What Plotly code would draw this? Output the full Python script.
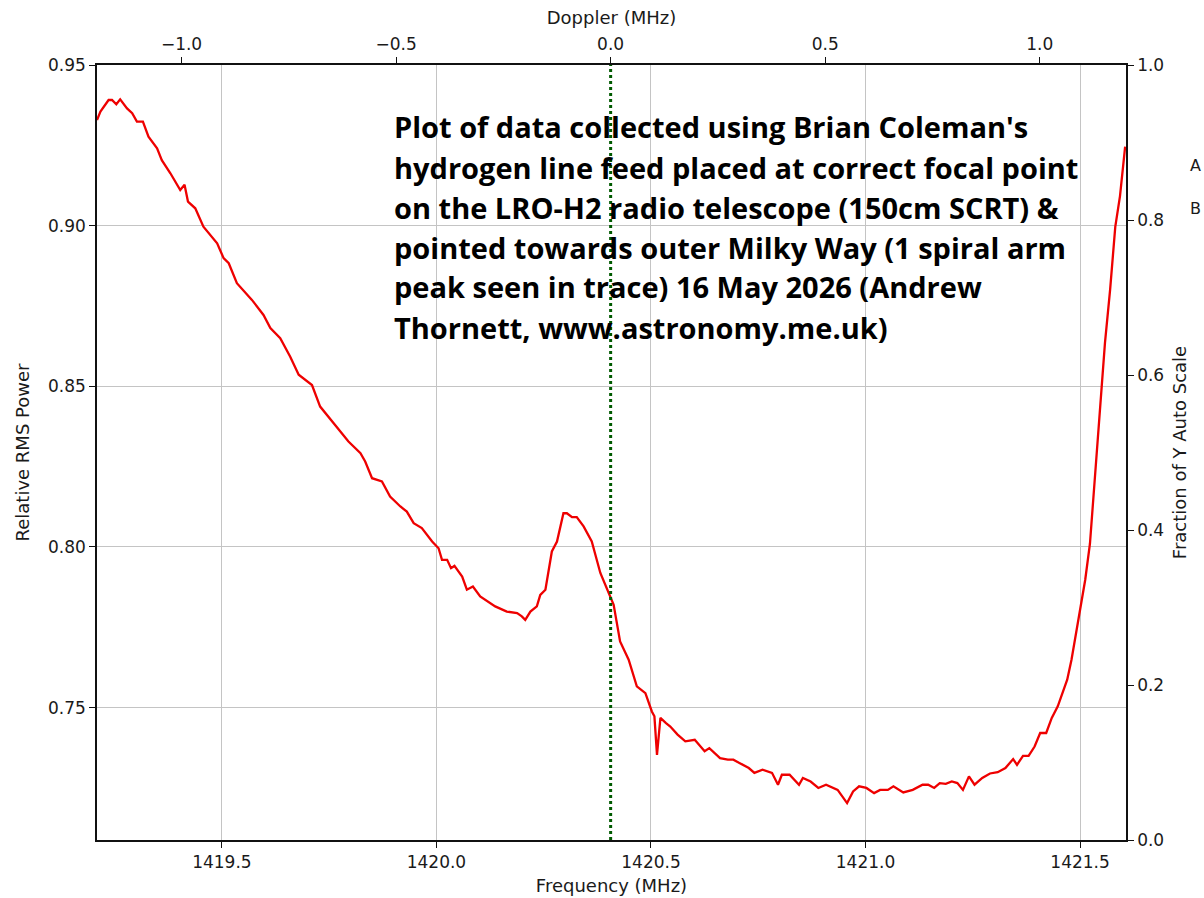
import plotly.graph_objects as go

# ---------------- data ----------------
freq_mhz = [
    1419.209, 1419.217, 1419.236, 1419.244, 1419.254, 1419.263, 1419.279, 1419.291, 1419.302, 1419.316,
    1419.329, 1419.349, 1419.360, 1419.380, 1419.403, 1419.413, 1419.421, 1419.438, 1419.457, 1419.489,
    1419.504, 1419.516, 1419.535, 1419.570, 1419.597, 1419.613, 1419.636, 1419.659, 1419.679, 1419.710,
    1419.729, 1419.764, 1419.795, 1419.823, 1419.834, 1419.850, 1419.873, 1419.892, 1419.916, 1419.931,
    1419.947, 1419.966, 1419.990, 1420.005, 1420.013, 1420.025, 1420.034, 1420.042, 1420.060, 1420.071,
    1420.085, 1420.102, 1420.137, 1420.164, 1420.188, 1420.199, 1420.207, 1420.219, 1420.234, 1420.242,
    1420.254, 1420.269, 1420.281, 1420.296, 1420.304, 1420.316, 1420.327, 1420.343, 1420.362, 1420.382,
    1420.405, 1420.413, 1420.428, 1420.448, 1420.467, 1420.487, 1420.502, 1420.508, 1420.514, 1420.522,
    1420.535, 1420.545, 1420.562, 1420.580, 1420.602, 1420.625, 1420.636, 1420.661, 1420.679, 1420.692,
    1420.706, 1420.728, 1420.741, 1420.760, 1420.782, 1420.796, 1420.805, 1420.823, 1420.845, 1420.854,
    1420.872, 1420.890, 1420.908, 1420.935, 1420.957, 1420.971, 1420.985, 1421.002, 1421.020, 1421.034,
    1421.052, 1421.065, 1421.088, 1421.110, 1421.133, 1421.146, 1421.160, 1421.173, 1421.187, 1421.201,
    1421.214, 1421.227, 1421.241, 1421.254, 1421.272, 1421.290, 1421.308, 1421.326, 1421.344, 1421.353,
    1421.367, 1421.380, 1421.394, 1421.407, 1421.421, 1421.434, 1421.448, 1421.470, 1421.480, 1421.496,
    1421.512, 1421.523, 1421.535, 1421.547, 1421.558, 1421.570, 1421.582, 1421.593, 1421.605,
]

rms_power = [
    0.9329, 0.9355, 0.9391, 0.9391, 0.9378, 0.9393, 0.9365, 0.9350, 0.9324, 0.9324,
    0.9277, 0.9241, 0.9204, 0.9163, 0.9111, 0.9127, 0.9075, 0.9054, 0.8997, 0.8945,
    0.8899, 0.8883, 0.8821, 0.8769, 0.8722, 0.8681, 0.8650, 0.8593, 0.8536, 0.8504,
    0.8437, 0.8380, 0.8328, 0.8292, 0.8266, 0.8214, 0.8204, 0.8157, 0.8126, 0.8110,
    0.8074, 0.8059, 0.8017, 0.7996, 0.7960, 0.7960, 0.7934, 0.7941, 0.7908, 0.7867,
    0.7877, 0.7846, 0.7815, 0.7799, 0.7794, 0.7784, 0.7773, 0.7799, 0.7815, 0.7851,
    0.7867, 0.7986, 0.8017, 0.8105, 0.8105, 0.8093, 0.8093, 0.8064, 0.8017, 0.7919,
    0.7846, 0.7820, 0.7706, 0.7649, 0.7566, 0.7545, 0.7488, 0.7473, 0.7353, 0.7468,
    0.7452, 0.7441, 0.7416, 0.7395, 0.7400, 0.7364, 0.7374, 0.7343, 0.7338, 0.7338,
    0.7328, 0.7312, 0.7297, 0.7307, 0.7297, 0.7260, 0.7291, 0.7291, 0.7260, 0.7281,
    0.7270, 0.7250, 0.7260, 0.7244, 0.7203, 0.7239, 0.7255, 0.7250, 0.7234, 0.7244,
    0.7244, 0.7255, 0.7236, 0.7244, 0.7260, 0.7260, 0.7250, 0.7265, 0.7263, 0.7270,
    0.7265, 0.7244, 0.7286, 0.7260, 0.7281, 0.7295, 0.7299, 0.7312, 0.7340, 0.7322,
    0.7350, 0.7350, 0.7379, 0.7421, 0.7421, 0.7468, 0.7504, 0.7587, 0.7649, 0.7773,
    0.7898, 0.8010, 0.8218, 0.8427, 0.8635, 0.8801, 0.8996, 0.9092, 0.9246,
]

H_LINE_MHZ = 1420.406           # doppler zero
freq_range = [1419.209, 1421.607]
power_range = [0.7088, 0.95]

freq_ticks = [1419.5, 1420.0, 1420.5, 1421.0, 1421.5]
power_ticks = [0.75, 0.80, 0.85, 0.90, 0.95]
doppler_ticks = [-1.0, -0.5, 0.0, 0.5, 1.0]
fraction_ticks = [0.0, 0.2, 0.4, 0.6, 0.8, 1.0]

annotation_lines = [
    "Plot of data collected using Brian Coleman's",
    "hydrogen line feed placed at correct focal point",
    "on the LRO-H2 radio telescope (150cm SCRT) &",
    "pointed towards outer Milky Way (1 spiral arm",
    "peak seen in trace) 16 May 2026 (Andrew",
    "Thornett, www.astronomy.me.uk)",
]
legend_stubs = ["A", "B"]

# ---------------- figure ----------------
W, H = 1204, 898
ML, MR, MT, MB = 97, 78, 65, 58
PLOT_H = H - MT - MB
PLOT_W = W - ML - MR

TICK_FONT = dict(family="DejaVu Sans", size=17, color="#1a1a1a")
TITLE_FONT = dict(family="DejaVu Sans", size=18, color="#1a1a1a")


def fmt(v, nd):
    s = f"{v:.{nd}f}"
    return s.replace("-", "\u2212")


doppler_range = [freq_range[0] - H_LINE_MHZ, freq_range[1] - H_LINE_MHZ]

fig = go.Figure()

fig.add_trace(go.Scatter(
    x=freq_mhz, y=rms_power, mode="lines",
    line=dict(color="#ee0000", width=2.3),
    xaxis="x", yaxis="y", showlegend=False, hoverinfo="skip",
))

# doppler-zero marker on the doppler / fraction axes
fig.add_trace(go.Scatter(
    x=[0.0, 0.0], y=[0.0, 1.0], mode="lines",
    line=dict(color="#005a00", width=3, dash="dot"),
    xaxis="x2", yaxis="y2", showlegend=False, hoverinfo="skip",
))

axis_common = dict(
    showline=True, linecolor="#111111", linewidth=1.5,
    ticks="outside", ticklen=6, tickwidth=1.2, tickcolor="#111111",
    tickfont=TICK_FONT, zeroline=False, automargin=False,
)

fig.update_layout(
    width=W, height=H,
    margin=dict(l=ML, r=MR, t=MT, b=MB, autoexpand=False),
    paper_bgcolor="white", plot_bgcolor="white",
    showlegend=False,
    xaxis=dict(
        range=freq_range, tickvals=freq_ticks,
        ticktext=[fmt(v, 1) for v in freq_ticks],
        showgrid=True, gridcolor="#c4c4c4", gridwidth=1,
        title=dict(text="Frequency (MHz)", font=TITLE_FONT, standoff=8),
        domain=[0, 1], anchor="y",
        **axis_common,
    ),
    xaxis2=dict(
        range=doppler_range, tickvals=doppler_ticks,
        ticktext=[fmt(v, 1) for v in doppler_ticks],
        overlaying="x", side="top", anchor="y2", showgrid=False,
        title=dict(text="Doppler (MHz)", font=TITLE_FONT, standoff=5),
        **axis_common,
    ),
    yaxis=dict(
        range=power_range, tickvals=power_ticks,
        ticktext=[fmt(v, 2) for v in power_ticks],
        showgrid=True, gridcolor="#c4c4c4", gridwidth=1,
        title=dict(text="Relative RMS Power", font=TITLE_FONT, standoff=14),
        anchor="x",
        **axis_common,
    ),
    yaxis2=dict(
        range=[0, 1], tickvals=fraction_ticks,
        ticktext=[fmt(v, 1) for v in fraction_ticks],
        overlaying="y", side="right", anchor="x2", showgrid=False,
        title=dict(text="Fraction of Y Auto Scale", font=TITLE_FONT, standoff=10),
        **axis_common,
    ),
)


def paper_y(py):
    return 1 - (py - MT) / PLOT_H


annos = []
for i, line in enumerate(annotation_lines):
    annos.append(dict(
        text=line, xref="paper", yref="paper",
        x=(392 - ML) / PLOT_W, y=paper_y(127 + 40 * i),
        xanchor="left", yanchor="middle", showarrow=False,
        font=dict(family="Open Sans", size=29, color="black", weight="bold"),
    ))
for i, s in enumerate(legend_stubs):
    annos.append(dict(
        text=s, xref="paper", yref="paper",
        x=(1188 - ML) / PLOT_W, y=paper_y(165 + 43 * i),
        xanchor="left", yanchor="middle", showarrow=False,
        font=dict(family="DejaVu Sans", size=16, color="#1a1a1a"),
    ))
fig.update_layout(annotations=annos)

fig.write_html(
    "out.html",
    config={"displayModeBar": False},
    post_script="document.body.style.margin='0';document.body.style.overflow='hidden';",
)
